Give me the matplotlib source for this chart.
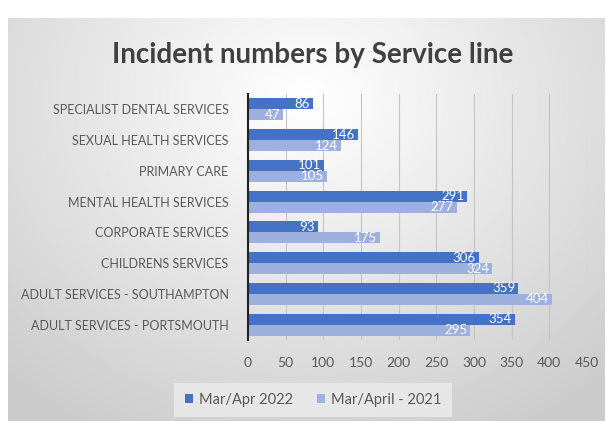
import numpy as np
import matplotlib.pyplot as plt

categories = ["SPECIALIST DENTAL SERVICES", "SEXUAL HEALTH SERVICES", "PRIMARY CARE",
              "MENTAL HEALTH SERVICES", "CORPORATE SERVICES", "CHILDRENS SERVICES",
              "ADULT SERVICES - SOUTHAMPTON", "ADULT SERVICES - PORTSMOUTH"]
mar_apr_2022 = [86, 146, 101, 291, 93, 306, 359, 354]
mar_apr_2021 = [47, 124, 105, 277, 175, 324, 404, 295]
xticks = [0, 50, 100, 150, 200, 250, 300, 350, 400, 450]

c_dark = "#4472C4"
c_light = "#9DB0DE"
txt = "#595959"
fam = ["Lato", "DejaVu Sans"]

fig = plt.figure(figsize=(6.12, 4.21), dpi=100)
fig.patch.set_facecolor("white")

# gradient panel behind the chart
bg = fig.add_axes([8 / 612, 0, 597 / 612, 403 / 421])
yy, xx = np.mgrid[-1:1:200j, -1:1:300j]
r = np.sqrt((xx * 0.95) ** 2 + ((yy + 0.6) * 0.75) ** 2)
grad = 1.0 - 0.2 * np.clip(r / 1.4, 0, 1)
bg.imshow(grad, cmap="gray", vmin=0, vmax=1, aspect="auto", extent=[0, 1, 0, 1])
bg.set_axis_off()

ax = fig.add_axes([248 / 612, 1 - 340 / 421, 339 / 612, 246 / 421])
ax.set_facecolor("none")

n = len(categories)
y = np.arange(n)[::-1]
h = 0.36
b1 = ax.barh(y + h / 2, mar_apr_2022, height=h, color=c_dark, label="Mar/Apr 2022", zorder=3)
b2 = ax.barh(y - h / 2, mar_apr_2021, height=h, color=c_light, label="Mar/April - 2021", zorder=3)
for vals, off in ((mar_apr_2022, h / 2), (mar_apr_2021, -h / 2)):
    for yi, v in zip(y, vals):
        ax.text(v - 4, yi + off, str(v), ha="right", va="center", color="white",
                fontsize=9.5, family=fam, zorder=4)

ax.set_xlim(0, 450)
ax.set_ylim(-0.5, n - 0.5)
ax.set_xticks(xticks)
ax.set_xticklabels([str(t) for t in xticks], family=fam, fontsize=10, color=txt)
ax.set_yticks(y)
ax.set_yticklabels(categories, family=fam, fontsize=9, color=txt)
ax.tick_params(axis="y", length=0, pad=14)
ax.tick_params(axis="x", length=0, pad=12)
ax.grid(axis="x", color="#c4c4c4", linewidth=0.8, zorder=0)
for s in ["top", "right", "bottom"]:
    ax.spines[s].set_visible(False)
ax.spines["left"].set_color("#222222")
ax.spines["left"].set_linewidth(1.5)
ax.spines["left"].set_zorder(5)

fig.text(313 / 612, 1 - 63 / 421, "Incident numbers by Service line", ha="center", va="baseline",
         fontsize=20, fontweight="bold", color="#404040", family=fam)

leg = fig.legend(handles=[b1, b2], loc="center", bbox_to_anchor=(313 / 612, 1 - 400 / 421), ncol=2,
                 frameon=True, fancybox=False, prop={"family": fam, "size": 10.5},
                 handlelength=0.6, handleheight=0.6, columnspacing=1.6, handletextpad=0.4,
                 borderpad=0.7, borderaxespad=0)
leg.get_frame().set_facecolor("#ececec")
leg.get_frame().set_edgecolor("none")
for t in leg.get_texts():
    t.set_color(txt)

fig.savefig("out.png", dpi=100)
